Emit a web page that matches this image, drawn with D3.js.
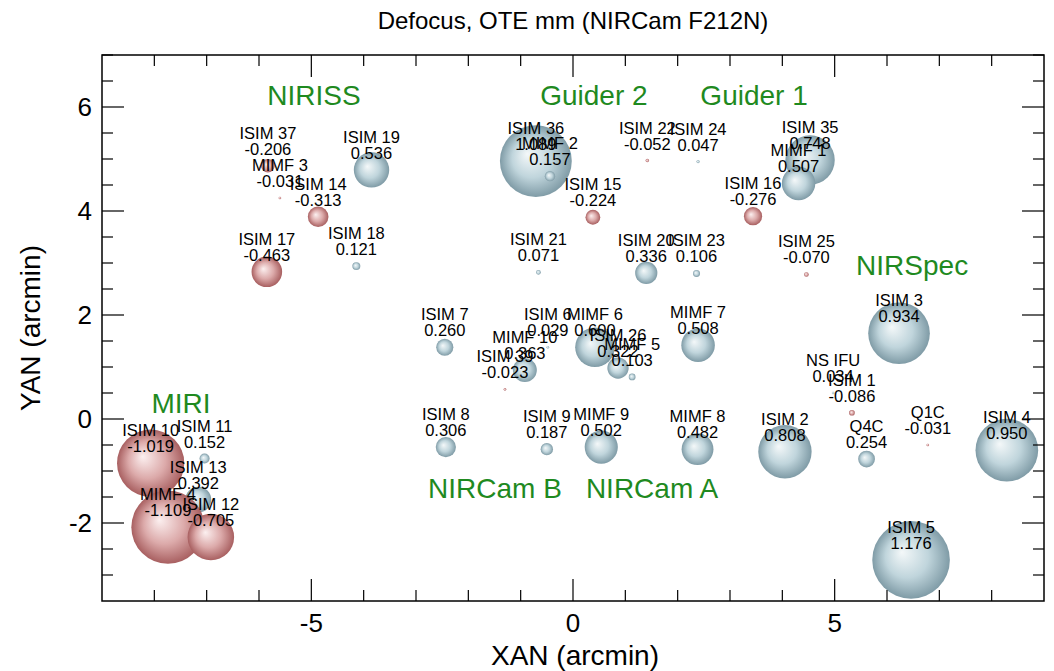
<!DOCTYPE html>
<html><head><meta charset="utf-8">
<script src="https://cdn.jsdelivr.net/npm/d3@7"></script>
<style>body{margin:0;background:#fff;} svg{display:block;font-family:"Liberation Sans",Arial,sans-serif;}</style>
</head><body>
<svg id="chart" width="1054" height="671"></svg>
<script>
const names = ["ISIM 37","MIMF 3","ISIM 14","ISIM 19","ISIM 17","ISIM 18","ISIM 36","MIMF 2","ISIM 15","ISIM 22","ISIM 24","ISIM 21","ISIM 20","ISIM 23","ISIM 35","MIMF 1","ISIM 16","ISIM 25","ISIM 3","NS  IFU","ISIM 1","Q4C","Q1C","ISIM 2","ISIM 4","ISIM 5","ISIM 7","ISIM 8","ISIM 9","MIMF 9","MIMF 8","MIMF 7","MIMF 6","ISIM 6","MIMF 10","ISIM 39","ISIM 26","MIMF 5","ISIM 10","ISIM 11","ISIM 13","MIMF 4","ISIM 12"];
const xan = [-5.83,-5.60,-4.87,-3.85,-5.85,-4.14,-0.71,-0.44,0.38,1.42,2.39,-0.66,1.40,2.36,4.53,4.31,3.44,4.46,6.23,4.97,5.33,5.61,6.78,4.05,8.29,6.46,-2.45,-2.43,-0.50,0.54,2.38,2.39,0.42,-0.48,-0.92,-1.30,0.86,1.13,-8.07,-7.04,-7.16,-7.74,-6.92];
const yan = [4.87,4.25,3.89,4.79,2.83,2.94,4.96,4.67,3.88,4.97,4.95,2.82,2.81,2.80,4.98,4.53,3.90,2.78,1.65,0.50,0.12,-0.77,-0.50,-0.63,-0.60,-2.71,1.38,-0.54,-0.58,-0.54,-0.58,1.42,1.38,1.38,0.94,0.57,0.98,0.81,-0.85,-0.76,-1.55,-2.08,-2.27];
const defocus = [-0.206,-0.031,-0.313,0.536,-0.463,0.121,1.089,0.157,-0.224,-0.052,0.047,0.071,0.336,0.106,0.748,0.507,-0.276,-0.070,0.934,0.034,-0.086,0.254,-0.031,0.808,0.950,1.176,0.260,0.306,0.187,0.502,0.482,0.508,0.600,0.029,0.363,-0.023,0.322,0.103,-1.019,0.152,0.392,-1.109,-0.705];

const regionNames = ["NIRISS","Guider 2","Guider 1","NIRSpec","MIRI","NIRCam B","NIRCam A"];
const regionX = [-4.95,0.40,3.46,6.48,-7.49,-1.49,1.51];
const regionY = [6.23,6.23,6.23,2.96,0.31,-1.33,-1.33];

const xTickLabels = [-5,0,5];
const yTickLabels = [-2,0,2,4,6];

const title = "Defocus, OTE mm (NIRCam F212N)";
const xTitle = "XAN (arcmin)";
const yTitle = "YAN (arcmin)";

const svg = d3.select("#chart");
const L = 102, R = 1044, T = 55, B = 601;
const x = d3.scaleLinear().domain([-9, 9]).range([L, R]);
const y = d3.scaleLinear().domain([-3.5, 7]).range([B, T]);
const rad = d3.scaleLinear().domain([0, 1]).range([0, 33]);

const defs = svg.append("defs");
function grad(id, c0, c1, c2) {
  const g = defs.append("radialGradient").attr("id", id)
    .attr("cx", "50%").attr("cy", "50%").attr("r", "50%").attr("fx", "38%").attr("fy", "40%");
  g.append("stop").attr("offset", "0%").attr("stop-color", c0);
  g.append("stop").attr("offset", "55%").attr("stop-color", c1);
  g.append("stop").attr("offset", "100%").attr("stop-color", c2);
}
grad("gPos", "#f4f8f9", "#c0d5dc", "#7f9ba6");
grad("gNeg", "#fcf0f0", "#dcaaaa", "#a85f60");

const data = names.map((n, i) => ({name: n, x: xan[i], y: yan[i], v: defocus[i]}));
const drawOrder = data.slice().sort((a, b) => b.y - a.y);

svg.append("text").attr("x", (L + R) / 2).attr("y", 29).attr("text-anchor", "middle")
  .attr("font-size", 24).text(title);

// bubbles
svg.append("g").selectAll("circle").data(drawOrder).join("circle")
  .attr("cx", d => x(d.x)).attr("cy", d => y(d.y))
  .attr("r", d => Math.max(1.3, rad(Math.abs(d.v))))
  .attr("fill", d => d.v >= 0 ? "url(#gPos)" : "url(#gNeg)");

// labels
const lab = svg.append("g").attr("font-size", 16.5).attr("text-anchor", "middle").attr("fill", "#000");
lab.selectAll("text.n").data(data).join("text").attr("class", "n")
  .attr("x", d => x(d.x)).attr("y", d => y(d.y) - 27).text(d => d.name);
lab.selectAll("text.v").data(data).join("text").attr("class", "v")
  .attr("x", d => x(d.x)).attr("y", d => y(d.y) - 11).text(d => d.v.toFixed(3));

// region labels
svg.append("g").attr("font-size", 28).attr("fill", "#1f8a1f").attr("text-anchor", "middle")
  .selectAll("text").data(regionNames).join("text")
  .attr("x", (d, i) => x(regionX[i])).attr("y", (d, i) => y(regionY[i]) + 10).text(d => d);

// frame
svg.append("rect").attr("x", L).attr("y", T).attr("width", R - L).attr("height", B - T)
  .attr("fill", "none").attr("stroke", "#000").attr("stroke-width", 1.5);

// ticks
const tk = svg.append("g").attr("stroke", "#000").attr("stroke-width", 1.2);
const xt = d3.range(-8, 9, 1);
xt.forEach(v => {
  const len = v % 5 === 0 ? 22 : 11;
  tk.append("line").attr("x1", x(v)).attr("x2", x(v)).attr("y1", B).attr("y2", B - len);
  tk.append("line").attr("x1", x(v)).attr("x2", x(v)).attr("y1", T).attr("y2", T + len);
});
const yt = d3.range(-3, 7.01, 0.5);
yt.forEach(v => {
  const len = (Math.abs(v % 2) < 1e-9) ? 22 : 11;
  tk.append("line").attr("y1", y(v)).attr("y2", y(v)).attr("x1", L).attr("x2", L + len);
  tk.append("line").attr("y1", y(v)).attr("y2", y(v)).attr("x1", R).attr("x2", R - len);
});

// tick labels
svg.append("g").attr("font-size", 26).attr("text-anchor", "middle")
  .selectAll("text").data(xTickLabels).join("text")
  .attr("x", d => x(d)).attr("y", B + 31).text(d => d);
svg.append("g").attr("font-size", 26).attr("text-anchor", "end")
  .selectAll("text").data(yTickLabels).join("text")
  .attr("x", L - 10).attr("y", d => y(d) + 9).text(d => d);

svg.append("text").attr("x", (L + R) / 2 + 2).attr("y", 665).attr("text-anchor", "middle")
  .attr("font-size", 28).text(xTitle);
svg.append("text").attr("transform", `translate(40,${(T + B) / 2}) rotate(-90)`)
  .attr("text-anchor", "middle").attr("font-size", 28).text(yTitle);
</script>
</body></html>
